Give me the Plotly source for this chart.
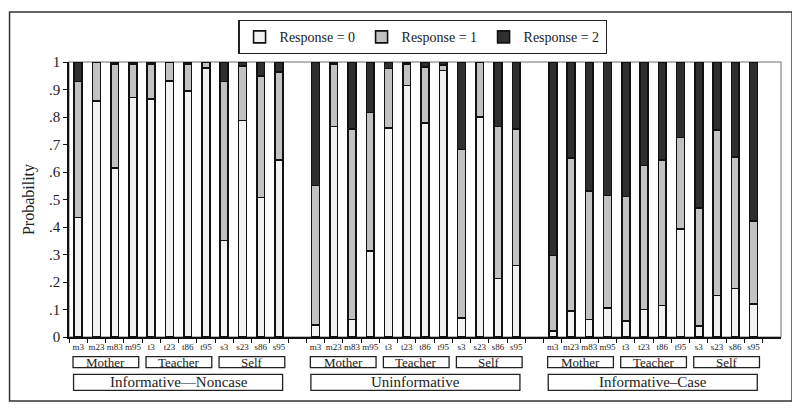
import plotly.graph_objects as go

# ---------------- data ----------------
items = ["m3", "m23", "m83", "m95", "t3", "t23", "t86", "t95", "s3", "s23", "s86", "s95"]
informants = ["Mother", "Teacher", "Self"]
groups = ["Informative\u2014Noncase", "Uninformative", "Informative\u2013Case"]
ytick_vals = [0, 0.1, 0.2, 0.3, 0.4, 0.5, 0.6, 0.7, 0.8, 0.9, 1.0]
ytick_text = ["0", ".1", ".2", ".3", ".4", ".5", ".6", ".7", ".8", ".9", "1"]
series_names = ["Response = 0", "Response = 1", "Response = 2"]

# Informative-Noncase
noncase_r0 = [0.435, 0.858, 0.614, 0.871, 0.865, 0.931, 0.895, 0.978, 0.351, 0.787, 0.507, 0.643]
noncase_r1 = [0.494, 0.142, 0.379, 0.122, 0.128, 0.069, 0.097, 0.022, 0.578, 0.199, 0.442, 0.320]
noncase_r2 = [0.071, 0.000, 0.007, 0.007, 0.007, 0.000, 0.008, 0.000, 0.071, 0.014, 0.051, 0.037]

# Uninformative
uninf_r0 = [0.043, 0.766, 0.063, 0.312, 0.759, 0.914, 0.778, 0.969, 0.069, 0.799, 0.213, 0.260]
uninf_r1 = [0.508, 0.227, 0.693, 0.504, 0.218, 0.079, 0.204, 0.021, 0.613, 0.201, 0.553, 0.496]
uninf_r2 = [0.449, 0.007, 0.244, 0.184, 0.023, 0.007, 0.018, 0.010, 0.318, 0.000, 0.234, 0.244]

# Informative-Case
case_r0 = [0.022, 0.094, 0.063, 0.105, 0.058, 0.100, 0.115, 0.392, 0.041, 0.151, 0.177, 0.121]
case_r1 = [0.274, 0.556, 0.467, 0.410, 0.453, 0.524, 0.528, 0.333, 0.429, 0.601, 0.478, 0.301]
case_r2 = [0.704, 0.350, 0.470, 0.485, 0.489, 0.376, 0.357, 0.275, 0.530, 0.248, 0.345, 0.578]

# ---------------- build ----------------
FONT = "Liberation Serif, Times New Roman, Times, serif"
colors = ["#f2f2f2", "#c2c2c2", "#2f2f2f"]
group_series = [
    [noncase_r0, noncase_r1, noncase_r2],
    [uninf_r0, uninf_r1, uninf_r2],
    [case_r0, case_r1, case_r2],
]
n = len(items)
step = n + 1  # one blank slot between groups

xs = []
labels = []
for g in range(len(groups)):
    for i in range(n):
        xs.append(g * step + i)
        labels.append(items[i])

fig = go.Figure()
for k, name in enumerate(series_names):
    ys = []
    for g in range(len(groups)):
        ys.extend(group_series[g][k])
    fig.add_trace(go.Bar(
        x=xs, y=ys, name=name, width=0.43,
        marker=dict(color=colors[k], line=dict(color="#111111", width=1.6)),
    ))

shapes = []
annotations = []
# gray plot frame (top / right)
shapes.append(dict(type="rect", xref="paper", yref="paper", x0=0, x1=1, y0=0, y1=1,
                   line=dict(color="#a0a0a0", width=1.5), layer="below"))
# outer figure frame
shapes.append(dict(type="rect", xref="paper", yref="paper", x0=-0.0835, x1=1.0155,
                   y0=-0.233, y1=1.182, line=dict(color="#333333", width=1.5)))

for g in range(len(groups)):
    base = g * step
    for j, inf in enumerate(informants):
        a = base + j * 4
        b = a + 3
        shapes.append(dict(type="rect", xref="x", yref="paper", x0=a - 0.28, x1=b + 0.32,
                           y0=-0.111, y1=-0.071, line=dict(color="#222222", width=1.3)))
        annotations.append(dict(x=(a + b) / 2 + 0.02, y=-0.091, xref="x", yref="paper",
                                xanchor="center", yanchor="middle",
                                text=inf, showarrow=False,
                                font=dict(family=FONT, size=13, color="#222222")))
    a = base
    b = base + n - 1
    shapes.append(dict(type="rect", xref="x", yref="paper", x0=a - 0.25, x1=b + 0.2,
                       y0=-0.194, y1=-0.136, line=dict(color="#222222", width=1.3)))
    annotations.append(dict(x=(a + b) / 2, y=-0.165, xref="x", yref="paper",
                            xanchor="center", yanchor="middle",
                            text=groups[g], showarrow=False,
                            font=dict(family=FONT, size=15, color="#222222")))

boundaries = [v - 0.5 for v in range(len(groups) * step)]

# page body has an 8px margin, so the figure is 8px smaller and margins shifted
fig.update_layout(
    width=792, height=403,
    margin=dict(l=61, r=19, t=50, b=74),
    paper_bgcolor="white", plot_bgcolor="white",
    barmode="stack",
    font=dict(family=FONT, color="#222222"),
    showlegend=True,
    legend=dict(orientation="h", x=0.497, xanchor="center", y=1.0907, yanchor="middle",
                bordercolor="#222222", borderwidth=1.2, bgcolor="white",
                font=dict(family=FONT, size=14, color="#222222"),
                itemwidth=30, entrywidth=77, traceorder="normal"),
    shapes=shapes,
    annotations=annotations,
    xaxis=dict(
        range=[-0.5, len(groups) * step - 1 + 0.5],
        tickmode="array", tickvals=xs, ticktext=labels, ticks="", tickangle=0,
        tickfont=dict(family=FONT, size=9, color="#222222"),
        showline=True, linecolor="#111111", linewidth=1.5,
        showgrid=False, zeroline=False, automargin=False,
        minor=dict(tickmode="array", tickvals=boundaries, ticks="outside", ticklen=4,
                   tickcolor="#111111", showgrid=False),
    ),
    yaxis=dict(
        range=[0, 1], tickmode="array", tickvals=ytick_vals, ticktext=ytick_text,
        ticks="outside", ticklen=4, tickcolor="#111111",
        tickfont=dict(family=FONT, size=15, color="#222222"),
        showline=True, linecolor="#111111", linewidth=1.5,
        showgrid=False, zeroline=False, automargin=False,
        title=dict(text="Probability", font=dict(family=FONT, size=16, color="#222222"),
                   standoff=10),
    ),
)

fig.write_html("out.html")
